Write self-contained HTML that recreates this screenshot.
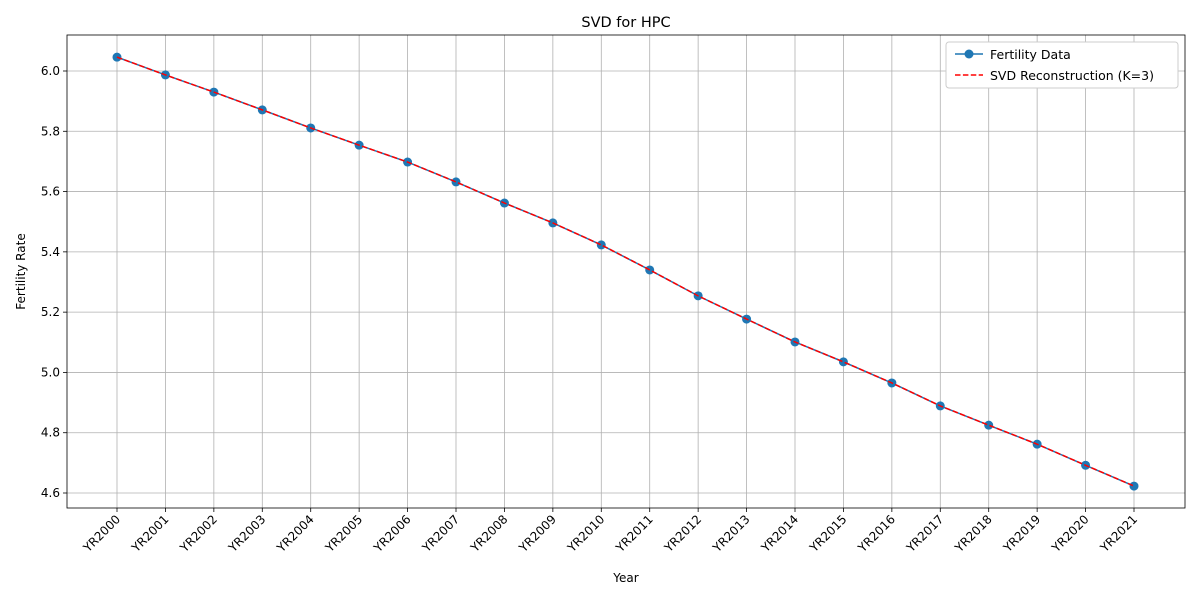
<!DOCTYPE html>
<html><head><meta charset="utf-8"><style>
body{margin:0;background:#fff;font-family:"Liberation Sans","DejaVu Sans",sans-serif;}
</style></head><body>
<svg id="chart" width="1200" height="600" xmlns="http://www.w3.org/2000/svg" font-family="DejaVu Sans, Liberation Sans, sans-serif"></svg>
<script>
const categories = ["YR2000","YR2001","YR2002","YR2003","YR2004","YR2005","YR2006","YR2007","YR2008","YR2009","YR2010","YR2011","YR2012","YR2013","YR2014","YR2015","YR2016","YR2017","YR2018","YR2019","YR2020","YR2021"];
const fertility = [6.046,5.987,5.930,5.871,5.811,5.754,5.698,5.632,5.562,5.496,5.423,5.340,5.254,5.177,5.101,5.035,4.965,4.889,4.825,4.762,4.692,4.623];
const reconstruction = [6.046,5.987,5.930,5.871,5.811,5.754,5.698,5.632,5.562,5.496,5.423,5.340,5.254,5.177,5.101,5.035,4.965,4.889,4.825,4.762,4.692,4.623];
const yTicks = [4.6,4.8,5.0,5.2,5.4,5.6,5.8,6.0];
const yTickLabels = ["4.6","4.8","5.0","5.2","5.4","5.6","5.8","6.0"];

const svg = document.getElementById('chart');
const NS = "http://www.w3.org/2000/svg";
const L=67,R=1185,T=35,B=508;
const x0=117, x1=1134;
function xs(i){return x0+(x1-x0)*i/(categories.length-1);}
function ys(v){return 493-(v-4.6)*(493-71)/1.4;}
function mk(tag,attrs,parent){const e=document.createElementNS(NS,tag);for(const k in attrs)e.setAttribute(k,attrs[k]);(parent||svg).appendChild(e);return e;}

const grid=mk('g',{});


categories.forEach((c,i)=>{
  mk('line',{x1:xs(i),x2:xs(i),y1:T,y2:B,stroke:'#b0b0b0','stroke-width':0.8},grid);
  mk('line',{x1:xs(i),x2:xs(i),y1:B,y2:B+4,stroke:'#000','stroke-width':0.8},grid);
  const t=mk('text',{x:xs(i)+4,y:B+12,'font-size':12,'text-anchor':'end',transform:`rotate(-45 ${xs(i)+4} ${B+12})`});
  
  
  t.textContent=c;
});
yTicks.forEach((v,i)=>{
  mk('line',{x1:L,x2:R,y1:ys(v),y2:ys(v),stroke:'#b0b0b0','stroke-width':0.8},grid);
  mk('line',{x1:L-4,x2:L,y1:ys(v),y2:ys(v),stroke:'#000','stroke-width':0.8},grid);
  const t=mk('text',{x:L-7,y:ys(v)+4,'font-size':12,'text-anchor':'end'});
  
  
  t.textContent=yTickLabels[i];
});
const frame=mk('rect',{x:L,y:T,width:R-L,height:B-T,fill:'none',stroke:'#000','stroke-width':0.8});



const line=mk('polyline',{points:fertility.map((v,i)=>xs(i)+','+ys(v)).join(' '),fill:'none',stroke:'#1f77b4','stroke-width':1.5});


fertility.forEach((v,i)=>{
  const c=mk('circle',{cx:xs(i),cy:ys(v),r:4.5,fill:'#1f77b4'});
  
  
});
const rl=mk('polyline',{points:reconstruction.map((v,i)=>xs(i)+','+ys(v)).join(' '),fill:'none',stroke:'#ff0000','stroke-width':1.5,'stroke-dasharray':'5.5,2.4'});



const title=mk('text',{x:(L+R)/2,y:27,'font-size':14.5,'text-anchor':'middle'});


title.textContent='SVD for HPC';
const xt=mk('text',{x:(L+R)/2,y:582,'font-size':12,'text-anchor':'middle'});


xt.textContent='Year';
const yt=mk('text',{x:25,y:(T+B)/2,'font-size':12,'text-anchor':'middle',transform:`rotate(-90 25 ${(T+B)/2})`});


yt.textContent='Fertility Rate';

const lg=mk('g',{});


mk('rect',{x:946,y:42,width:232,height:46,rx:3,fill:'#fff',stroke:'#ccc','stroke-width':1},lg);
mk('line',{x1:955,x2:983,y1:54,y2:54,stroke:'#1f77b4','stroke-width':1.5},lg);
mk('circle',{cx:969,cy:54,r:4.5,fill:'#1f77b4'},lg);
const l1=mk('text',{x:990,y:59,'font-size':12.5},lg);


l1.textContent='Fertility Data';
mk('line',{x1:955,x2:983,y1:75,y2:75,stroke:'#ff0000','stroke-width':1.5,'stroke-dasharray':'5.5,2.4'},lg);
const l2=mk('text',{x:990,y:80,'font-size':12.5},lg);


l2.textContent='SVD Reconstruction (K=3)';
</script>
</body></html>
